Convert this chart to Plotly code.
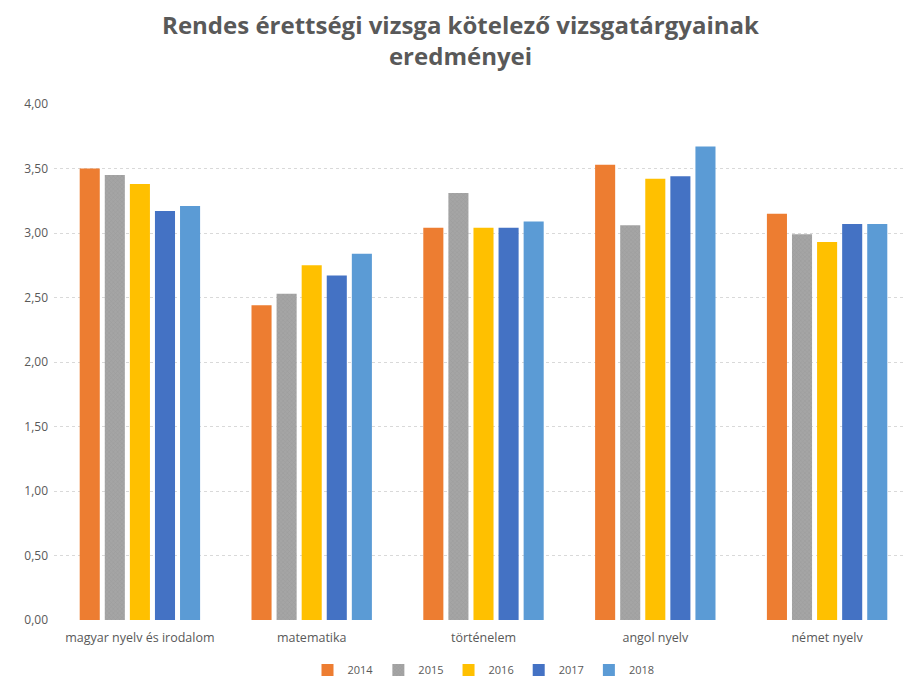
import plotly.graph_objects as go

categories = ["magyar nyelv és irodalom", "matematika", "történelem", "angol nyelv", "német nyelv"]
years = ["2014", "2015", "2016", "2017", "2018"]
v2014 = [3.50, 2.44, 3.04, 3.53, 3.15]
v2015 = [3.45, 2.53, 3.31, 3.06, 2.99]
v2016 = [3.38, 2.75, 3.04, 3.42, 2.93]
v2017 = [3.17, 2.67, 3.04, 3.44, 3.07]
v2018 = [3.21, 2.84, 3.09, 3.67, 3.07]
series = [v2014, v2015, v2016, v2017, v2018]
colors = ["#ED7D31", "#A5A5A5", "#FFC000", "#4472C4", "#5B9BD5"]

fig = go.Figure()
for name, vals, col in zip(years, series, colors):
    marker = dict(color=col, line=dict(width=0))
    if name == "2015":
        marker["pattern"] = dict(shape="x", size=3, solidity=0.3, fgcolor="#8F8F8F", bgcolor=col)
    fig.add_trace(go.Bar(name=name, x=categories, y=vals, marker=marker))

fig.update_layout(
    width=905, height=674,
    paper_bgcolor="white", plot_bgcolor="white",
    separators=", ",
    margin=dict(l=46, r=0, t=96, b=62, autoexpand=False),
    title=dict(text="<b>Rendes érettségi vizsga kötelező vizsgatárgyainak<br>eredményei</b>",
               x=0.5, xanchor="center", y=1 - 26 / 674, yanchor="middle",
               font=dict(family="Open Sans", size=24, color="#595959")),
    barmode="group", bargap=0.27, bargroupgap=0.2,
    font=dict(family="Open Sans", size=12, color="#595959"),
    legend=dict(orientation="h", x=0.5, xanchor="center",
                yref="container", y=1 - 662 / 674, yanchor="middle",
                font=dict(size=11, color="#595959"), itemwidth=30,
                traceorder="normal"),
    showlegend=True,
)
fig.update_yaxes(range=[0, 4], dtick=0.5, tickformat=".2f", showgrid=True,
                 gridcolor="#D9D9D9", griddash="dot", zeroline=False,
                 showline=False, ticks="", ticklabelstandoff=5, automargin=False,
                 tickfont=dict(size=12, color="#595959"))
fig.update_xaxes(showline=False, ticks="", ticklabelstandoff=8, automargin=False,
                 tickfont=dict(size=12.5, color="#595959"))

fig.write_html("out.html")
